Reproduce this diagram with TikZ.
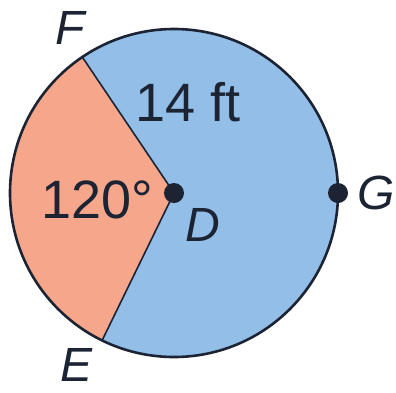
\documentclass[tikz,border=0pt]{standalone}
\usepackage{fontspec}
\setmainfont{Liberation Sans}
\definecolor{sectorA}{RGB}{246,166,138}
\definecolor{sectorB}{RGB}{146,190,232}
\definecolor{ink}{RGB}{28,36,52}
\begin{document}
\begin{tikzpicture}[x=1pt,y=-1pt,
  rim/.style={draw=ink,line width=2.6pt},
  edge/.style={draw=ink,line width=1.6pt},
  dotpt/.style={circle,fill=ink,inner sep=0pt,minimum size=20pt},
  bigtxt/.style={text=ink,font=\fontsize{54}{54}\selectfont,inner sep=0pt},
  lbl/.style={text=ink,font=\fontsize{48}{48}\selectfont\itshape,inner sep=0pt}]
\useasboundingbox (0,0) rectangle (396,392);
\coordinate (C) at (174,193);
\fill[sectorB] (C) circle[radius=164];
\fill[sectorA] (C) -- ++(116:164) arc[start angle=116,end angle=236,radius=164] -- cycle;
\draw[rim] (C) circle[radius=164];
\coordinate (Fp) at ([shift={(236:164)}]C);
\coordinate (Ep) at ([shift={(116:164)}]C);
\coordinate (Gp) at ([shift={(0:164)}]C);
\draw[edge] (Fp) -- (C) -- (Ep);
\node[dotpt] (D) at (C) {};
\node[dotpt] (G) at (Gp) {};
\node[bigtxt] (t1) at (188,102) {14 ft};
\node[bigtxt] (t2) at (97,200) {120°};
\node[lbl] (lD) at (203,225) {D};
\node[lbl] (lG) at (376,193) {G};
\node[lbl] (lF) at (70,28) {F};
\node[lbl] (lE) at (77,365) {E};
\end{tikzpicture}
\end{document}
